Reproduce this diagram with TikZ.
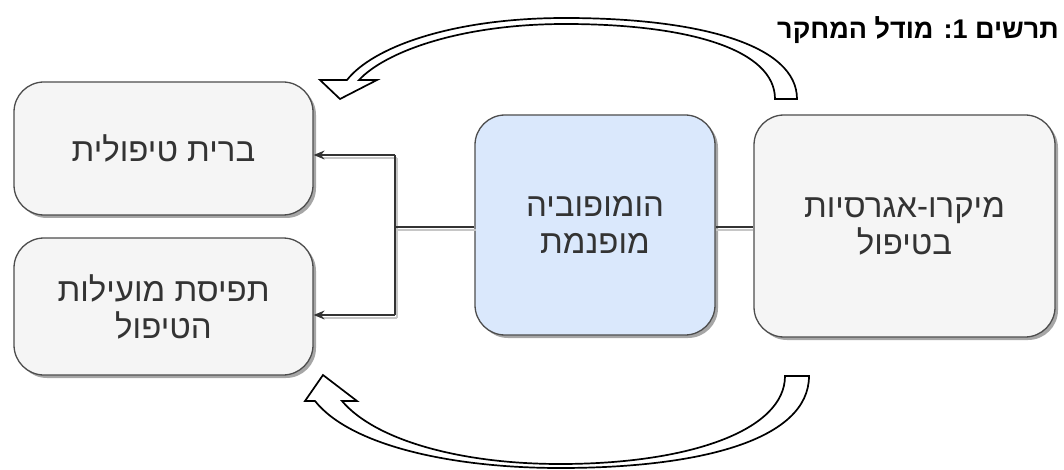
\documentclass[tikz,border=0pt]{standalone}
\usepackage{fontspec}
\usetikzlibrary{arrows.meta,shadows}
\TeXXeTstate=1
\newfontfamily\hebsans[Script=Hebrew]{Liberation Sans}
\definecolor{boxfill}{HTML}{F5F5F5}
\definecolor{boxline}{HTML}{4D4D4D}
\definecolor{bluefill}{HTML}{DAE8FC}
\definecolor{txt}{HTML}{333333}
\tikzset{
  box/.style={draw=boxline, line width=1.3pt, fill=boxfill, rounded corners=30pt,
    align=center, text=txt, inner sep=0pt,
    font=\hebsans\fontsize{33}{37}\selectfont,
    drop shadow={shadow xshift=3pt, shadow yshift=-3pt, fill=black, opacity=0.35}},
  conn/.style={draw=txt, line width=1.2pt},
  connsh/.style={draw=gray!45, line width=1.2pt},
  tip/.style={-{Stealth[length=11pt,width=9pt]}},
  bigarrow/.style={draw=black, line width=1.7pt, fill=white, line join=miter},
}
\begin{document}
\begin{tikzpicture}[x=1pt,y=-1pt]
\useasboundingbox (0,0) rectangle (1064,470);

% big curved arrows
\path[bigarrow] (797,99) .. controls (797,45) and (700,18) .. (565,18)
  .. controls (450,18) and (372,48) .. (347,80) -- (320,80) -- (340,99) -- (377,80) -- (359,80)
  .. controls (385,52) and (460,24) .. (565,24)
  .. controls (690,24) and (775,50) .. (775,99) -- cycle;
\path[bigarrow] (809,376) .. controls (809,440) and (700,468) .. (560,468)
  .. controls (450,468) and (350,445) .. (315,401) -- (305,401) -- (323,375) -- (357,401) -- (342,401)
  .. controls (375,440) and (460,464) .. (560,464)
  .. controls (690,464) and (785,430) .. (785,376) -- cycle;

% title
\node[anchor=east, inner sep=0pt, font=\hebsans\bfseries\fontsize{27}{30}\selectfont] (title) at (1059,30) {\beginR תרשים 1: מודל המחקר\endR};

% boxes
\node[box, minimum width=299pt, minimum height=133pt] (A) at (163.5,148.5)
  {\beginR ברית טיפולית\endR};
\node[box, minimum width=299pt, minimum height=137pt] (B) at (163.5,306.5)
  {\beginR תפיסת מועילות\endR\\\beginR הטיפול\endR};
\node[box, fill=bluefill, minimum width=240pt, minimum height=220pt] (M) at (595,225)
  {\beginR הומופוביה\endR\\\beginR מופנמת\endR};
\node[box, minimum width=301pt, minimum height=222pt] (R) at (904.5,226)
  {\beginR מיקרו-אגרסיות\endR\\\beginR בטיפול\endR};

% connectors
\coordinate (j) at (395,227);
\coordinate (jt) at (395,155);
\coordinate (jb) at (395,315);
\coordinate (ml) at (M.west |- j);
\coordinate (mr) at (M.east |- j);
\coordinate (rl) at (R.west |- j);
\coordinate (at) at (A.east |- jt);
\coordinate (bt) at (B.east |- jb);

\draw[connsh] ([shift={(2,3)}]ml) -- ([shift={(2,3)}]j);
\draw[connsh] ([shift={(2,3)}]jt) -- ([shift={(2,3)}]jb);
\draw[connsh] ([shift={(2,3)}]jt) -- ([shift={(8,3)}]at);
\draw[connsh] ([shift={(2,3)}]jb) -- ([shift={(8,3)}]bt);
\draw[connsh] ([shift={(0,3)}]mr) -- ([shift={(0,3)}]rl);

\draw[conn] (ml) -- (j);
\draw[conn] (jt) -- (jb);
\draw[conn, tip] (jt) -- (at);
\draw[conn, tip] (jb) -- (bt);
\draw[conn] (mr) -- (rl);
\end{tikzpicture}
\end{document}
